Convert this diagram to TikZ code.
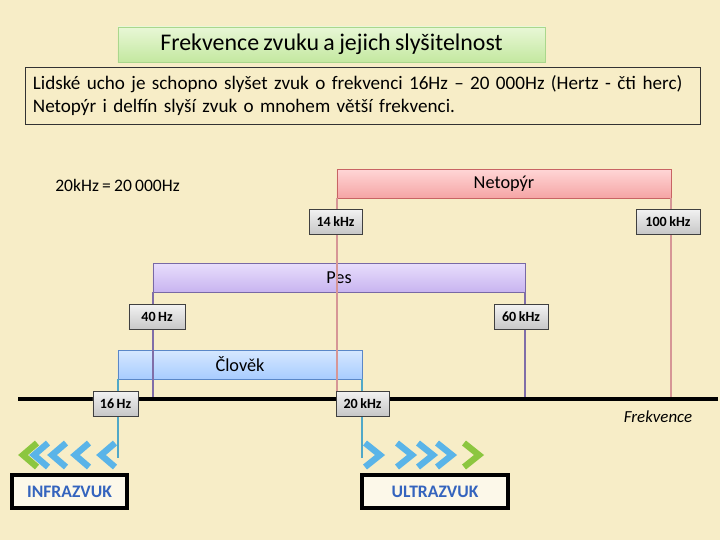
\documentclass[tikz,border=0pt]{standalone}
\usepackage{fontspec}
\setmainfont[WordSpace=0.8]{Carlito}
\usetikzlibrary{positioning}
\definecolor{parch}{RGB}{247,237,199}
\definecolor{batline}{RGB}{214,150,150}
\definecolor{dogline}{RGB}{128,110,168}
\definecolor{manline}{RGB}{80,168,200}
\definecolor{chevblue}{RGB}{90,180,232}
\definecolor{chevgreen}{RGB}{140,198,63}
\definecolor{wordblue}{RGB}{52,100,190}

\begin{document}
\begin{tikzpicture}[x=0.025cm,y=-0.025cm,
    titlebox/.style={rectangle,draw={rgb,255:red,170;green,215;blue,140},top color={rgb,255:red,232;green,247;blue,214},
      bottom color={rgb,255:red,196;green,232;blue,160},minimum width=10.675cm,minimum height=0.875cm,
      font=\fontsize{17}{20}\selectfont},
    infobox/.style={rectangle,draw=black!80,fill=parch,minimum height=1.425cm,text width=16.475cm,
      inner xsep=0.2cm,align=left,font=\fontsize{13.6}{16.3}\selectfont},
    bar/.style={rectangle,minimum height=0.725cm,font=\fontsize{13}{15}\selectfont},
    freq/.style={rectangle,draw=black!75,top color=white!95!black,bottom color=black!22,
      minimum height=0.625cm,inner xsep=0pt,font=\fontsize{10}{12}\selectfont\bfseries},
    wordbox/.style={rectangle,draw=black,line width=2.2pt,fill=white!60!parch,minimum height=0.825cm,
      text=wordblue,font=\fontsize{12.5}{14}\selectfont\bfseries},
    chev/.style={line width=4.5pt,line cap=butt,line join=miter}]
  \useasboundingbox (0,0) rectangle (720,540);
  \fill[parch] (0,0) rectangle (720,540);

  % heading and text
  \node[titlebox] (title) at (331.5,44.5) {Frekvence zvuku a jejich slyšitelnost};
  \node[infobox] (info) at (362.5,95.5) {Lidské ucho je schopno slyšet zvuk o frekvenci 16Hz – 20 000Hz (Hertz - čti herc)\\Netopýr i delfín slyší zvuk o mnohem větší frekvenci.};
  \node[font=\fontsize{12.5}{15}\selectfont] (unit) at (117.5,185) {20kHz = 20 000Hz};

  % ranges
  \node[bar,draw={rgb,255:red,200;green,100;blue,100},top color={rgb,255:red,255;green,214;blue,214},
    bottom color={rgb,255:red,245;green,165;blue,165},minimum width=8.35cm] (bat) at (504,183.5) {Netopýr};
  \node[bar,draw={rgb,255:red,120;green,105;blue,165},top color={rgb,255:red,232;green,222;blue,252},
    bottom color={rgb,255:red,200;green,180;blue,240},minimum width=9.3cm] (dog) at (339,277.5) {Pes};
  \node[bar,draw={rgb,255:red,90;green,135;blue,200},top color={rgb,255:red,214;green,232;blue,255},
    bottom color={rgb,255:red,168;green,204;blue,255},minimum width=6.1cm] (man) at (240,364.5) {Člověk};

  \coordinate (axL) at (18,399);
  \coordinate (axR) at (718,399);
  \coordinate (low) at (0,458);

  \draw[batline,line width=1.5pt] (bat.south west) -- (bat.south west |- axL);
  \draw[batline,line width=1.5pt] (bat.south east) -- (bat.south east |- axL);
  \draw[dogline,line width=1.5pt] (dog.south west) -- (dog.south west |- axL);
  \draw[dogline,line width=1.5pt] (dog.south east) -- (dog.south east |- axL);
  \draw[manline,line width=1.5pt] (man.south west) -- (man.south west |- low);
  \draw[manline,line width=1.5pt] (man.south east) -- (man.south east |- low);

  \draw[line width=2.8pt] (axL) -- (axR);
  \node[font=\fontsize{12}{14}\selectfont\itshape] (axis) at (658,417) {Frekvence};

  % limits
  \node[freq,minimum width=1.325cm] (f14k) at (335.5,221.5) {14 kHz};
  \node[freq,minimum width=1.6cm] (f100k) at (668,221.5) {100 kHz};
  \node[freq,minimum width=1.4cm] (f40) at (157,317) {40 Hz};
  \node[freq,minimum width=1.35cm] (f60k) at (521,317) {60 kHz};
  \node[freq,minimum width=1.125cm] (f16) at (115.5,403.5) {16 Hz};
  \node[freq,minimum width=1.325cm] (f20k) at (362.5,403.5) {20 kHz};

  % chevrons
  \foreach \t in {34,52,75,101}
    \draw[chev,chevblue] (\t+14,443) -- (\t,455) -- (\t+14,467);
  \draw[chev,chevgreen] (37,443) -- (23,455) -- (37,467);
  \foreach \t in {380,412,433,452}
    \draw[chev,chevblue] (\t-15,443) -- (\t,455) -- (\t-15,467);
  \draw[chev,chevgreen] (464,443) -- (479,455) -- (464,467);

  \node[wordbox,minimum width=2.875cm] (infra) at (69.5,491.5) {INFRAZVUK};
  \node[wordbox,minimum width=3.65cm] (ultra) at (435,491.5) {ULTRAZVUK};
\end{tikzpicture}
\end{document}
